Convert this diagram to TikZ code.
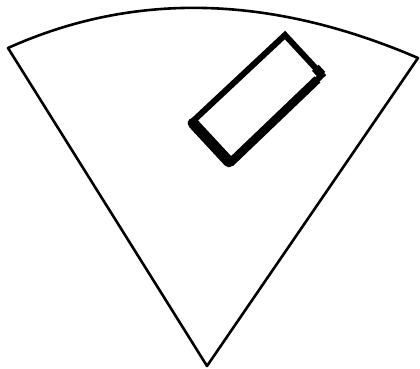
\documentclass[tikz,border=0pt]{standalone}
\usetikzlibrary{calc}
\begin{document}
\begin{tikzpicture}[x=1pt,y=-1pt,
  sectorline/.style={line width=2.6pt,line join=round,line cap=round},
  boxline/.style={line width=6pt,line join=miter}]
\useasboundingbox (0,0) rectangle (420,369);
\coordinate (apex) at (207,366);
\coordinate (lc) at (8,48);
\coordinate (rc) at (418,58);
\draw[sectorline] (apex) -- (lc) .. controls (134,-8.7) and (270.7,-5.3) .. (rc) -- cycle;
\coordinate (L) at (192,122);
\coordinate (T) at (285,35);
\coordinate (R) at (322,75);
\coordinate (B) at (230,163);
\draw[boxline] (L) -- (T) -- (R) -- (B) -- cycle;
\draw[line width=11pt,line cap=round] ($(L)!0.03!(B)$) -- ($(B)!0.03!(L)$);
\draw[line width=8.5pt] ($(B)!0.0!(R)$) -- ($(R)!0.05!(B)$);
\draw[line width=9pt] ($(R)!0!(T)$) -- ($(R)!0.18!(T)$);
\end{tikzpicture}
\end{document}
